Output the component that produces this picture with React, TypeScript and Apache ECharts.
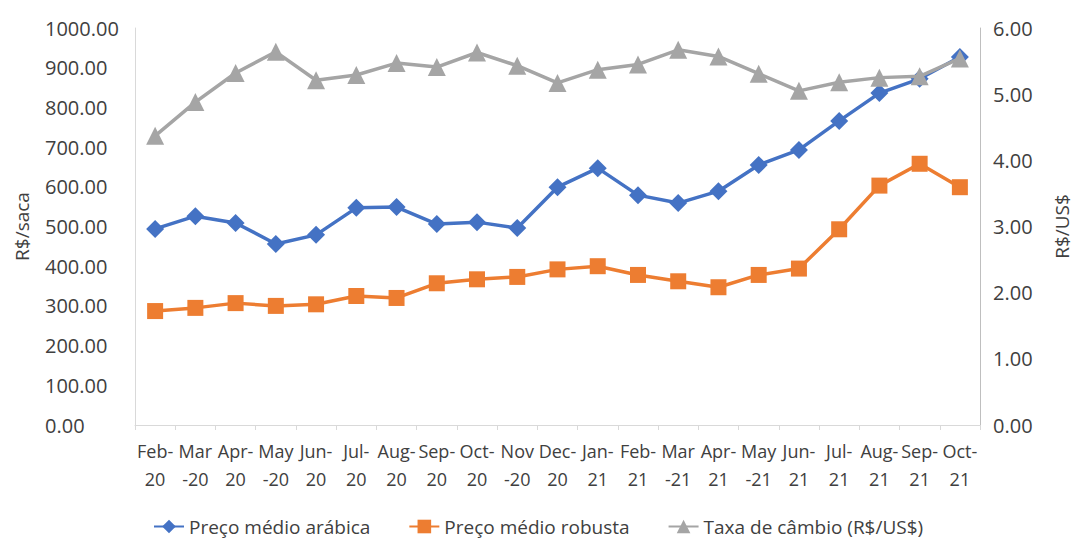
import React, { useEffect, useRef } from "react";
import * as echarts from "echarts";

const categories = [
  "Feb-\n20", "Mar\n-20", "Apr-\n20", "May\n-20", "Jun-\n20", "Jul-\n20", "Aug-\n20",
  "Sep-\n20", "Oct-\n20", "Nov\n-20", "Dec-\n20", "Jan-\n21", "Feb-\n21", "Mar\n-21",
  "Apr-\n21", "May\n-21", "Jun-\n21", "Jul-\n21", "Aug-\n21", "Sep-\n21", "Oct-\n21",
];

const arabica = [494, 526, 509, 456, 479, 547, 549, 506, 511, 496, 599, 647, 579, 559, 589, 655, 693, 766, 836, 872, 927];
const robusta = [287, 295, 307, 300, 304, 325, 320, 357, 367, 373, 392, 400, 378, 362, 347, 378, 394, 493, 603, 658, 599];
const cambio = [4.37, 4.88, 5.32, 5.64, 5.21, 5.29, 5.47, 5.41, 5.63, 5.43, 5.17, 5.37, 5.45, 5.67, 5.57, 5.31, 5.05, 5.18, 5.25, 5.27, 5.54];

const leftTicks = { min: 0, max: 1000, interval: 100 };
const rightTicks = { min: 0, max: 6, interval: 1 };

const FONT = "Open Sans";
const TXT = "#404040";

export default function App() {
  const ref = useRef<HTMLDivElement>(null);
  useEffect(() => {
    if (!ref.current) return;
    const chart = echarts.init(ref.current, null, { renderer: "svg" });
    chart.setOption({
      animation: false,
      textStyle: { fontFamily: FONT },
      grid: { left: 135, right: 93, top: 28, bottom: 115, containLabel: false, outerBoundsMode: "none" },
      legend: {
        bottom: -1,
        left: 148,
        itemGap: 38,
        itemWidth: 30,
        itemHeight: 17,
        textStyle: { fontFamily: FONT, fontSize: 19, color: TXT },
        data: ["Preço médio arábica", "Preço médio robusta", "Taxa de câmbio (R$/US$)"],
      },
      xAxis: {
        type: "category",
        data: categories,
        boundaryGap: true,
        axisLine: { lineStyle: { color: "#D9D9D9", width: 1 } },
        axisTick: { show: true, length: 5, lineStyle: { color: "#D9D9D9" } },
        axisLabel: {
          interval: 0,
          margin: 12,
          fontSize: 18,
          lineHeight: 28,
          color: TXT,
          fontFamily: FONT,
        },
      },
      yAxis: [
        {
          type: "value",
          ...leftTicks,
          name: "R$/saca",
          nameLocation: "middle",
          nameRotate: 90,
          nameGap: 104,
          nameTextStyle: { fontSize: 19, color: TXT, fontFamily: FONT },
          axisLine: { show: true, lineStyle: { color: "#D9D9D9" } },
          axisTick: { show: false },
          splitLine: { show: false },
          axisLabel: {
            formatter: (v: number) => v.toFixed(2),
            align: "left",
            margin: 90,
            fontSize: 20,
            color: TXT,
            fontFamily: FONT,
          },
        },
        {
          type: "value",
          ...rightTicks,
          name: "R$/US$",
          nameLocation: "middle",
          nameRotate: 90,
          nameGap: 72,
          nameTextStyle: { fontSize: 19, color: TXT, fontFamily: FONT },
          axisLine: { show: true, lineStyle: { color: "#BFBFBF" } },
          axisTick: { show: false },
          splitLine: { show: false },
          axisLabel: {
            formatter: (v: number) => v.toFixed(2),
            align: "left",
            margin: 13,
            fontSize: 20,
            color: TXT,
            fontFamily: FONT,
          },
        },
      ],
      series: [
        {
          name: "Preço médio arábica",
          type: "line",
          yAxisIndex: 0,
          data: arabica,
          symbol: "diamond",
          symbolSize: 18,
          color: "#4472C4",
          lineStyle: { width: 3.5, color: "#4472C4" },
          itemStyle: { color: "#4472C4" },
          z: 3,
        },
        {
          name: "Preço médio robusta",
          type: "line",
          yAxisIndex: 0,
          data: robusta,
          symbol: "rect",
          symbolSize: 16,
          color: "#ED7D31",
          lineStyle: { width: 3.5, color: "#ED7D31" },
          itemStyle: { color: "#ED7D31" },
          z: 2,
        },
        {
          name: "Taxa de câmbio (R$/US$)",
          type: "line",
          yAxisIndex: 1,
          data: cambio,
          symbol: "triangle",
          symbolSize: 18,
          color: "#A5A5A5",
          lineStyle: { width: 3.5, color: "#A5A5A5" },
          itemStyle: { color: "#A5A5A5" },
          z: 4,
        },
      ],
    });
    return () => chart.dispose();
  }, []);
  return (
    <div
      ref={ref}
      style={{ position: "fixed", left: 0, top: 0, width: 1073, height: 540, background: "#fff" }}
    />
  );
}
